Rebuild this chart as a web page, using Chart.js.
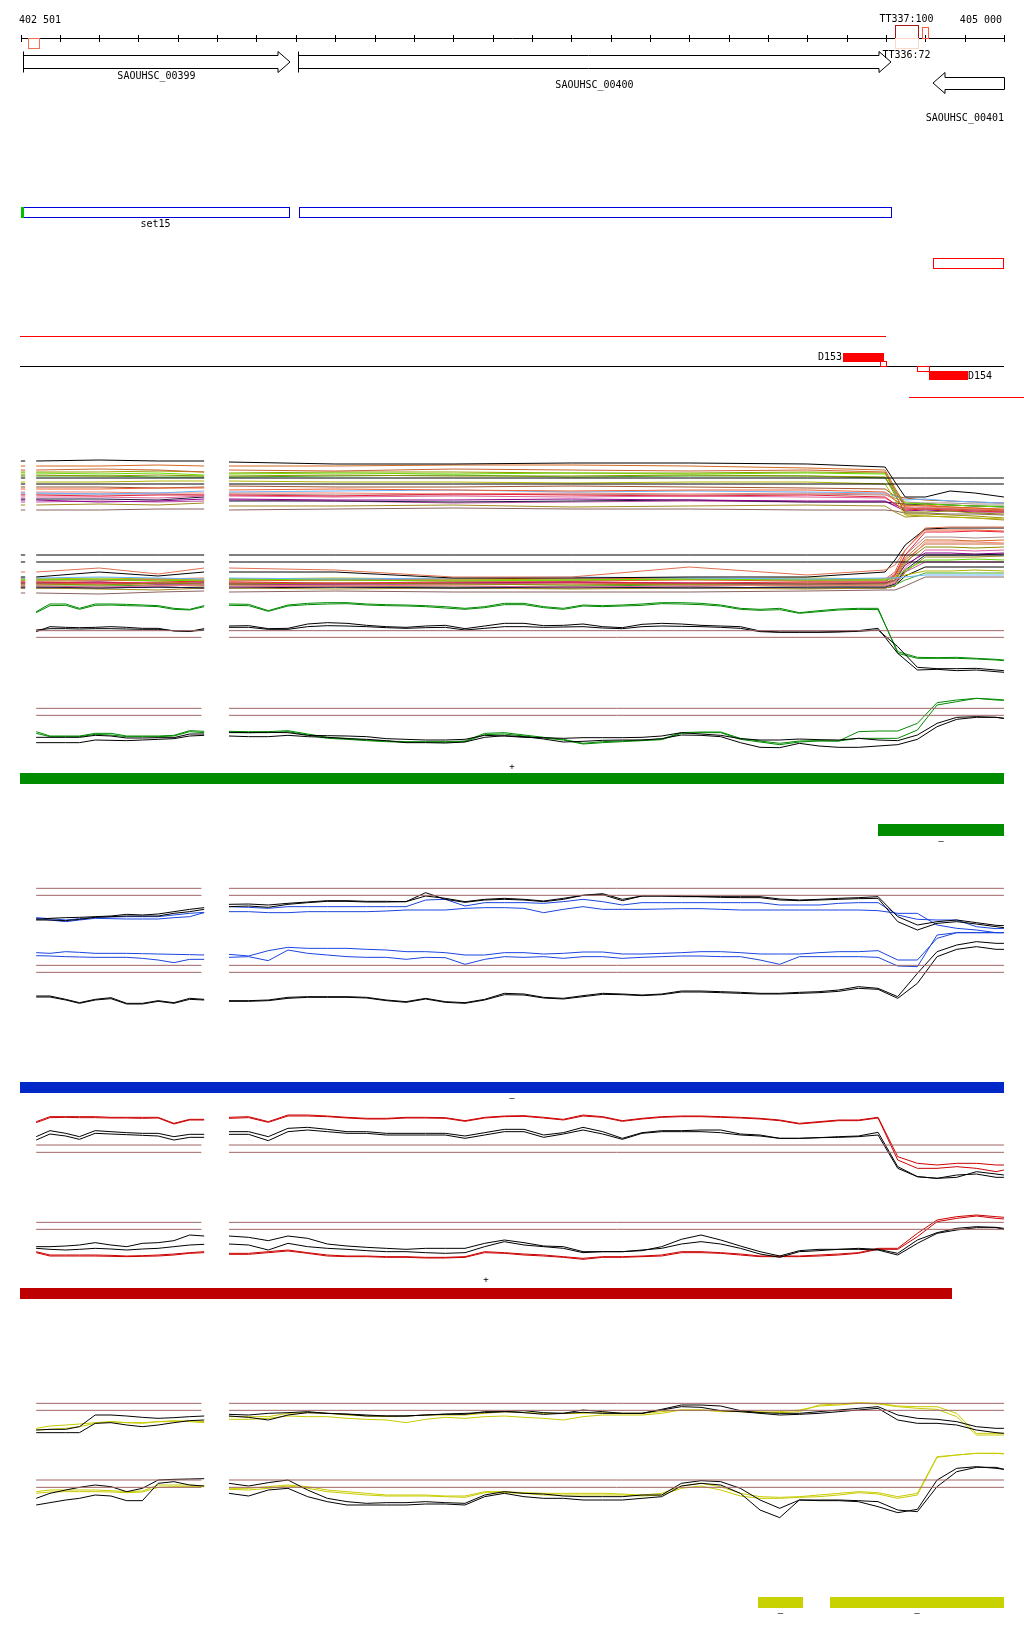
<!DOCTYPE html>
<html>
<head>
<meta charset="utf-8">
<script src="https://cdn.jsdelivr.net/npm/chart.js@4.4.1/dist/chart.umd.min.js"></script>
<style>
  html, body { margin: 0; padding: 0; background: #fff; }
  #page { position: relative; width: 1024px; height: 1640px; overflow: hidden; background: #fff; }
  #page canvas { position: absolute; left: 0; }
</style>
</head>
<body>
<div id="page"></div>
<script>
// genome window shown
const viewStart = 402501, viewEnd = 405000;
const X_MIN = 402448, X_MAX = 405051;

const rulerTicks = [402501, 402600, 402700, 402800, 402900, 403000, 403100, 403200, 403300, 403400, 403500,
  403600, 403700, 403800, 403900, 404000, 404100, 404200, 404300, 404400, 404500, 404600, 404700, 404800, 404900, 405000];
const rulerLabels = ['402 501', '405 000'];

// genes
const geneNames = ['SAOUHSC_00399', 'SAOUHSC_00400', 'SAOUHSC_00401'];
const geneStart = [402507, 403206, 404819];
const geneEnd = [403185, 404714, 405000];
const geneStrand = ['+', '+', '-'];

// terminators
const termNames = ['TT337:100', 'TT336:72'];
const termStart = [404723, 404723];
const termEnd = [404782, 404782];
const termStrand = ['+', '-'];

// small sites next to ruler
const siteStart = [402519, 404792];
const siteEnd = [402547, 404807];
const siteStrand = ['-', '+'];

// feature rows
const setName = 'set15';
const setStart = [402503, 403207];
const setEnd = [403183, 404714];
const redBox = [404819, 404998];
const redLineA = [402499, 404700];
const blackLine = [402499, 405000];
const redLineB = [404759, 405051];
const peakNames = ['D153', 'D154'];
const peakStart = [404591, 404810];
const peakEnd = [404695, 404909];
const smallBoxes = [[404685, 404700], [404779, 404810]];

// strand bars under each condition group
const greenPlus = [[402499, 405000]];
const greenMinus = [[404680, 405000]];
const blueMinus = [[402499, 405000]];
const redPlus = [[402499, 404868]];
const yellowMinus = [[404375, 404489], [404558, 405000]];

// ---------- multi-sample tracks (coarse positions) ----------
const abX = [402501, 402512, 402525, 402540, 402700, 402850, 402967, 403000, 403030, 403300, 403600,
  403900, 404200, 404500, 404698, 404723, 404749, 404800, 404863, 404926, 405000];

const trackA = [
  [139,139,null,139,140,139,139,null,138,136,136,137,137,136,133,118,103,103,109,107,103],
  [122,122,null,122,122,122,122,null,122,122,122,122,122,122,122,122,122,122,122,122,122],
  [116,116,null,116,116,116,116,null,116,116,116,116,116,116,116,116,116,116,116,116,116],
  [134,134,null,134,134,135,134,null,134,134,135,135,134,132,130,112,95,94,93,92,90],
  [130,130,null,130,131,130,128,null,130,129,131,130,129,130,128,110,92,91,91,90,89],
  [127,127,null,127,126,127,125,null,126,127,126,127,126,127,126,110,97,96,95,94,93],
  [125,125,null,125,124,125,124,null,124,125,124,124,125,124,123,105,88,88,89,87,86],
  [118,118,null,118,118,119,119,null,119,118,118,117,118,118,116,100,85,84,83,82,81],
  [111,111,null,111,111,112,112,null,110,111,110,109,110,110,108,100,94,95,93,92,91],
  [107,107,null,107,106,107,109,null,108,109,110,108,109,108,107,104,100,101,99,98,97],
  [105,105,null,105,104,105,105,null,105,104,106,105,104,105,103,96,90,91,90,89,88],
  [103,103,null,103,103,102,104,null,104,103,104,103,104,103,102,96,91,92,91,90,89],
  [100,100,null,100,98,99,101,null,101,100,100,101,100,99,99,94,89,90,89,88,88],
  [101,101,null,101,101,100,103,null,99,99,98,99,100,98,98,97,96,96,95,94,93],
  [108,108,null,108,108,107,107,null,107,107,106,107,106,107,106,100,93,93,92,91,90],
  [95,95,null,95,96,95,97,null,94,94,95,93,94,95,94,88,83,84,83,82,80],
  [90,90,null,90,90,91,91,null,90,91,92,91,91,90,90,89,87,87,86,86,85],
  [98,98,null,98,99,98,99,null,100,99,97,98,99,98,98,95,92,92,91,90,90],
  [124,124,null,124,124,123,123,null,123,124,125,123,124,124,122,108,95,96,95,94,94],
  [106,106,null,106,106,106,105,null,106,105,105,106,105,106,105,102,98,97,97,96,96],
  [113,113,null,113,113,112,113,null,114,113,113,114,113,112,111,104,102,100,99,98,97],
  [128,128,null,128,128,129,128,null,127,128,128,127,127,128,127,107,86,86,85,84,82]
];
const trackAColors = ['#000000','#000000','#000000','#d2691e','#c86432','#66dd00','#8c8c00','#b4b400','#f06030',
  '#66b2ff','#e8203c','#e0609a','#8b008b','#1a1a40','#f08070','#a08a20','#8b6262','#c050a0','#44aa22','#aa8888','#a0522d','#999900'];

const trackB = [
  [45,45,null,45,45,45,45,null,45,45,45,45,45,45,45,45,45,45,45,45,45],
  [38,38,null,38,38,38,38,null,38,38,38,38,38,38,38,38,38,38,38,38,38],
  [28,28,null,28,32,26,32,null,32,30,23,23,33,25,30,35,50,72,73,73,73],
  [23,23,null,23,28,24,28,null,28,28,22,22,23,23,28,40,55,71,72,72,72],
  [22,22,null,22,23,22,21,null,22,21,22,23,22,21,22,22,23,25,25,25,25],
  [20,20,null,20,21,19,20,null,21,20,19,20,21,20,20,22,30,40,40,41,40],
  [18,18,null,18,17,18,19,null,18,17,18,18,17,18,18,25,45,68,68,69,68],
  [16,16,null,16,15,17,16,null,16,17,16,15,16,16,16,20,38,53,53,52,53],
  [17,17,null,17,18,16,17,null,16,16,17,18,17,16,17,20,35,47,47,46,47],
  [19,19,null,19,19,20,18,null,19,20,19,19,20,19,19,24,42,60,60,59,60],
  [15,15,null,15,16,15,14,null,15,14,15,16,15,14,15,18,36,58,58,58,57],
  [14,14,null,14,13,14,15,null,13,14,14,13,14,15,14,17,32,50,50,49,50],
  [13,13,null,13,12,13,12,null,13,13,12,13,12,13,13,16,30,45,45,45,46],
  [21,21,null,21,22,21,20,null,21,22,21,20,21,22,21,22,25,29,29,30,29],
  [14,14,null,14,14,15,14,null,15,14,13,14,15,14,14,15,20,27,27,27,27],
  [12,12,null,12,11,10,12,null,12,11,12,11,12,11,12,14,28,43,43,43,44],
  [20,20,null,20,20,21,20,null,20,21,20,20,21,20,20,26,45,63,63,62,63],
  [17,17,null,17,16,17,18,null,17,16,17,17,16,17,17,22,40,56,56,56,56],
  [12,12,null,12,12,13,12,null,12,13,12,12,13,12,12,14,24,33,33,33,33],
  [7,7,null,7,6,8,9,null,8,9,8,8,8,9,10,10,14,23,23,23,23],
  [16,16,null,16,17,16,15,null,16,15,16,17,16,15,16,19,28,38,38,38,38],
  [21,21,null,21,20,21,22,null,21,20,21,22,21,20,21,28,50,70,70,70,69]
];
const trackBColors = ['#000000','#000000','#e07050','#000000','#66b2ff','#66dd00','#e8203c','#8c8c00','#8b008b','#d2691e',
  '#f08070','#e0609a','#1a1a50','#b4b400','#44aa22','#a08a20','#aa8888','#c86432','#000000','#8b6262','#c050a0','#f06030'];

// ---------- condition tracks (fine positions) ----------
const gridX = [402540, 402575, 402615, 402650, 402690, 402730, 402770, 402810, 402850, 402890, 402930, 402967, 403000,
  403030, 403080, 403130, 403180, 403230, 403280, 403330, 403380, 403430, 403480,
  403530, 403580, 403630, 403680, 403730, 403780, 403830, 403880, 403930, 403980,
  404030, 404080, 404130, 404180, 404230, 404280, 404330, 404380, 404430, 404480,
  404530, 404580, 404630, 404680, 404730, 404780, 404830, 404880, 404930, 404980, 405000];
const threshX = [402540, 402960, 403000, 403030, 405000];

// green condition, upper panel
const gu1 = [-15,8,8,-5,8,8,7,5,3,-5,-8,3,null,
  8,7,-12,5,10,12,12,8,6,5, 3,0,-5,0,10,10,0,-5,5,3, 5,8,12,12,10,5,-5,-8,-5,-18, -12,-7,-5,-5,-140,-155,-155,-155,-157,-160, -162];
const gu2 = [-18,3,4,-8,4,5,3,2,0,-8,-10,0,null,
  4,3,-14,2,6,8,9,5,3,2, 0,-4,-8,-3,6,6,-3,-8,2,0, 2,4,9,8,6,2,-8,-11,-9,-20, -15,-10,-8,-9,-135,-152,-153,-152,-155,-158, -160];
const gu3 = [-75,-60,-62,-63,-62,-60,-62,-65,-65,-73,-74,-66,null,
  -58,-57,-66,-65,-52,-48,-50,-56,-60,-62, -58,-56,-66,-58,-50,-50,-57,-56,-52,-60, -63,-53,-50,-52,-56,-58,-60,-73,-76,-76, -76,-75,-72,-65,-140,-190,-188,-192,-190,-195, -197];
const gu4 = [-70,-66,-66,-67,-66,-66,-67,-68,-68,-72,-74,-70,null,
  -62,-62,-68,-68,-60,-57,-58,-60,-63,-65, -63,-62,-70,-65,-60,-60,-62,-61,-60,-64, -66,-60,-58,-59,-60,-62,-65,-75,-77,-77, -77,-76,-74,-70,-120,-182,-186,-186,-185,-190, -192];
const guThresh = [-72, -92];

// green condition, lower panel
const gl1 = [285,272,272,272,280,280,272,272,272,274,288,286,null,
  286,285,285,288,278,268,265,260,257,255, 255,255,257,280,282,275,268,262,250,255, 257,260,263,282,284,284,265,257,250,257, 258,257,265,265,265,290,365,375,385,380, 379];
const gl2 = [280,270,270,270,277,275,270,270,270,272,285,282,null,
  282,282,282,285,275,265,262,258,255,253, 253,253,255,276,278,272,266,260,248,252, 255,258,261,280,282,282,262,254,246,254, 257,257,285,287,287,310,372,380,385,382, 380];
const gl3 = [268,268,268,268,274,272,266,266,267,267,278,278,null,
  283,282,283,282,274,273,272,270,264,262, 260,260,262,274,272,268,267,265,267,267, 267,268,272,282,278,274,264,260,260,263, 261,260,265,260,258,275,310,328,330,328, 325];
const gl4 = [252,252,252,252,260,259,258,260,262,264,272,274,null,
  272,270,270,274,270,268,264,262,258,252, 252,251,254,268,273,270,263,254,256,259, 260,260,264,275,274,270,252,238,237,250, 242,238,238,242,246,262,300,322,328,328, 325];
const glThresh = [355, 334];

// blue condition
const bl1 = [322,325,327,328,330,332,337,335,338,345,352,357,null,
  367,368,365,370,374,378,378,376,376,375, 392,385,375,382,385,382,377,385,394,399, 382,392,392,392,390,390,390,390,383,380, 382,385,387,390,330,305,315,320,312,304, 303];
const bl2 = [320,320,318,322,328,330,332,332,332,340,345,352,null,
  360,362,358,367,372,376,376,374,374,375, 402,382,373,380,382,380,375,382,394,396, 378,392,392,390,390,388,387,387,380,378, 380,382,384,385,315,290,310,315,308,300, 297];
const bl3 = [327,324,320,324,328,329,330,330,330,335,340,343,null,
  360,358,355,360,360,360,360,360,360,360, 380,382,362,372,372,372,370,375,382,375, 365,372,372,372,372,372,372,372,365,365, 365,370,372,372,335,322,320,320,300,294, 295];
const bl4 = [325,320,315,320,325,324,323,323,323,327,330,342,null,
  345,345,342,342,345,345,345,345,347,350, 350,350,355,357,357,355,342,352,360,352, 352,352,353,354,354,352,350,350,350,350, 350,350,350,348,340,340,305,295,290,282, 282];
const bl5 = [222,220,225,223,220,220,220,219,218,217,216,215,null,
  217,212,228,238,235,235,235,232,230,225, 225,222,215,215,222,222,218,220,224,224, 218,218,220,222,225,225,222,218,218,218, 222,225,225,228,200,200,265,282,282,282, 282];
const bl6 = [213,212,210,209,208,208,208,205,200,192,202,202,null,
  208,210,198,230,220,215,210,208,208,202, 208,207,187,202,210,208,210,205,210,210, 205,208,210,212,212,210,210,200,187,210, 210,210,210,208,182,180,275,282,282,282, 282];
const bl7 = [92,92,82,72,82,87,70,70,78,72,85,82,null,
  78,78,80,88,90,90,90,88,80,75, 85,75,72,82,100,98,88,85,93,100, 98,95,98,107,107,105,103,100,100,103, 105,110,120,115,90,160,225,245,255,250, 250];
const bl8 = [89,89,80,70,80,84,68,68,76,70,82,80,null,
  76,76,78,85,88,88,88,86,78,73, 83,73,70,80,96,95,86,83,90,97, 96,93,96,104,104,102,100,98,98,100, 102,106,115,112,85,130,210,232,240,232, 232];
const blThresh = [415, 394, 184, 163];

// red condition
const rd1 = [435,450,450,450,450,448,448,448,448,430,442,442,null,
  448,450,435,455,455,452,448,445,445,448, 448,447,438,448,452,453,448,442,455,450, 438,445,450,452,452,450,448,445,440,430, 435,440,440,448,330,310,305,310,310,305, 305];
const rd2 = [432,447,448,447,447,446,446,445,446,428,440,440,null,
  445,447,433,452,452,450,446,443,443,446, 446,445,436,446,450,451,446,440,452,448, 436,443,448,450,450,448,446,443,438,428, 433,438,438,446,320,295,295,300,295,285, 290];
const rd3 = [390,408,400,390,408,405,402,400,400,390,397,397,null,
  405,405,390,415,418,412,405,405,400,400, 400,400,392,402,412,412,395,402,418,405, 385,402,408,408,410,410,398,395,385,385, 387,390,392,403,300,270,265,268,285,278, 275];
const rd4 = [380,398,392,382,400,398,396,394,392,380,388,388,null,
  397,397,378,405,410,405,400,400,395,395, 395,395,385,395,405,405,388,398,410,398, 382,400,405,405,405,402,395,392,385,385, 387,388,390,395,295,270,265,275,278,268, 268];
const rd5 = [60,60,62,65,72,65,60,70,72,78,95,92,null,
  92,88,78,92,85,68,62,58,55,52, 55,55,55,70,80,72,62,60,45,45, 45,48,60,82,95,80,62,45,32,48, 52,52,55,52,40,80,102,115,120,118, 115];
const rd6 = [55,52,50,52,55,53,50,53,55,60,65,67,null,
  68,65,50,70,60,55,52,48,45,45, 42,40,42,60,75,65,60,55,42,45, 45,50,55,68,75,68,55,38,28,45, 48,52,52,50,35,70,100,110,117,117, 112];
const rd7 = [45,35,35,35,35,34,32,33,35,38,42,45,null,
  40,40,45,50,42,35,32,32,30,30, 28,28,30,45,42,38,35,30,25,30, 30,32,35,45,45,42,38,32,32,32, 35,38,42,55,55,100,140,150,155,150, 148];
const rd8 = [42,32,32,32,32,31,30,31,32,35,40,42,null,
  37,37,42,47,40,32,30,30,28,28, 26,26,28,42,40,35,32,28,22,28, 28,30,32,42,42,40,35,30,30,30, 32,35,40,52,52,90,135,145,152,145, 143];
const rdThresh = [365, 343, 133, 112];

// yellow condition
const yl1 = [350,352,352,360,395,395,392,388,385,387,390,392,null,
  397,395,400,402,405,400,398,395,392,392, 395,398,400,402,405,408,402,400,410,405, 400,400,412,425,425,422,408,402,400,400, 405,410,415,420,395,385,382,375,360,355, 355];
const yl2 = [342,342,342,342,370,372,365,360,365,372,378,380,null,
  392,388,380,395,402,400,397,392,392,392, 395,397,397,405,405,402,397,400,403,400, 400,400,410,420,418,408,405,400,395,397, 400,405,410,415,380,370,370,365,350,342, 340];
const yl3 = [355,362,365,368,372,375,372,370,375,375,378,375,null,
  390,390,390,400,402,400,395,392,390,392, 395,395,395,400,405,402,400,400,400,402, 400,400,405,410,410,405,405,405,402,405, 425,428,432,430,422,420,420,400,340,340, 340];
const yl4 = [350,352,355,360,370,375,372,372,375,378,375,372,null,
  382,382,385,392,390,390,385,382,380,372, 382,388,385,390,392,388,385,380,390,395, 395,395,400,410,410,408,405,402,405,410, 422,425,430,428,420,415,412,390,335,335, 335];
const yl5 = [145,160,170,178,185,180,165,175,200,202,203,204,null,
  190,182,192,200,170,145,135,130,132,132, 135,132,130,155,165,160,158,152,150,150, 150,155,155,190,198,195,175,140,115,140, 140,140,138,135,110,105,180,225,238,238, 232];
const yl6 = [125,132,140,145,155,152,138,138,190,195,185,182,null,
  160,152,170,175,150,135,125,125,125,125, 128,128,125,150,160,150,145,145,140,140, 140,145,150,182,190,185,160,110,87,140, 138,138,135,120,102,112,200,235,240,235, 232];
const yl7 = [165,170,170,170,170,168,165,167,185,185,185,182,null,
  175,175,180,185,180,170,165,160,155,155, 155,152,152,165,165,162,160,160,160,160, 158,155,160,182,190,180,160,150,148,150, 155,160,165,162,150,160,270,275,280,280, 278];
const yl8 = [160,164,165,165,165,164,162,164,178,180,180,180,null,
  172,170,175,182,175,165,160,155,152,152, 152,150,148,162,162,160,155,155,155,155, 155,152,155,175,182,170,152,145,145,148, 150,155,162,158,145,155,268,275,280,280, 280];
const ylThresh = [430, 409, 200, 178];

// ---------- styles / layout ----------
const C = {
  black: '#000000', thresh: '#a06464', green: '#008a00', blue: '#1a44e0', red: '#cc0000', yellow: '#c8cc00',
  greenBar: '#008c00', blueBar: '#0028c8', redBar: '#be0000', yellowBar: '#c8d200'
};
const FONT = '10px "DejaVu Sans Mono", monospace';
const page = document.getElementById('page');

function line(xs, ys, color) {
  return { data: xs.map((x, i) => ({ x: x, y: ys[i] })), borderColor: color, borderWidth: 1,
    pointRadius: 0, fill: false, spanGaps: false, tension: 0 };
}
function threshold(v) {
  return line(threshX, threshX.map(x => (x === 403000 ? null : v)), C.thresh);
}

function addCanvas(top, height) {
  const cv = document.createElement('canvas');
  cv.width = 1024; cv.height = height;
  cv.style.top = top + 'px';
  page.appendChild(cv);
  return cv;
}

function trackChart(top, height, yMin, yMax, datasets) {
  return new Chart(addCanvas(top, height), {
    type: 'line',
    data: { datasets: datasets },
    options: {
      responsive: false, animation: false, devicePixelRatio: 1, events: [],
      layout: { padding: 0 },
      plugins: { legend: { display: false }, tooltip: { enabled: false } },
      scales: {
        x: { type: 'linear', min: X_MIN, max: X_MAX, display: false },
        y: { type: 'linear', min: yMin, max: yMax, display: false }
      },
      elements: { point: { radius: 0 }, line: { tension: 0 } }
    }
  });
}

// ---------- header / annotation drawing ----------
function hline(ctx, x0, x1, y, color) {
  ctx.strokeStyle = color; ctx.beginPath(); ctx.moveTo(x0, y + 0.5); ctx.lineTo(x1, y + 0.5); ctx.stroke();
}
function vline(ctx, x, y0, y1, color) {
  ctx.strokeStyle = color; ctx.beginPath(); ctx.moveTo(x + 0.5, y0); ctx.lineTo(x + 0.5, y1); ctx.stroke();
}
function boxOutline(ctx, x0, x1, y0, y1, color) {
  ctx.strokeStyle = color; ctx.strokeRect(x0 + 0.5, y0 + 0.5, x1 - x0, y1 - y0);
}
function boxFill(ctx, x0, x1, y0, y1, color) {
  ctx.fillStyle = color; ctx.fillRect(x0, y0, x1 - x0, y1 - y0);
}
function text(ctx, s, x, y, align) {
  ctx.fillStyle = '#000'; ctx.textAlign = align; ctx.fillText(s, x, y);
}

const annotPlugin = {
  id: 'annot',
  afterDraw(chart) {
    const ctx = chart.ctx;
    const X = v => Math.round(chart.scales.x.getPixelForValue(v));
    ctx.save();
    ctx.lineWidth = 1;
    ctx.font = FONT;
    ctx.textBaseline = 'middle';

    // ruler
    hline(ctx, X(viewStart), X(viewEnd), 38, C.black);
    rulerTicks.forEach(t => vline(ctx, X(t), 35, 42, C.black));
    text(ctx, rulerLabels[0], X(viewStart) - 2, 20, 'left');
    text(ctx, rulerLabels[1], X(viewEnd) - 2, 20, 'right');

    // sites and terminators
    siteStart.forEach((s, i) => {
      const up = siteStrand[i] === '+';
      boxOutline(ctx, X(s), X(siteEnd[i]), up ? 27 : 38, up ? 38 : 48, up ? '#ff5a3c' : '#f07050');
    });
    termStart.forEach((s, i) => {
      const up = termStrand[i] === '+';
      const x0 = X(s), x1 = X(termEnd[i]);
      boxOutline(ctx, x0, x1, up ? 25 : 38, up ? 38 : 48, up ? '#a01818' : '#ffd6c8');
      text(ctx, termNames[i], (x0 + x1) / 2, up ? 19 : 55, 'center');
    });

    // genes
    const labelY = [76, 85, 118];
    geneStart.forEach((s, i) => {
      const x0 = X(s), x1 = X(geneEnd[i]), head = 12;
      ctx.strokeStyle = C.black; ctx.fillStyle = '#fff';
      ctx.beginPath();
      if (geneStrand[i] === '+') {
        const top = 55.5, bot = 68.5, ht = 51.5, hb = 72.5, mid = 62;
        ctx.moveTo(x0 + 0.5, ht); ctx.lineTo(x0 + 0.5, hb);
        ctx.moveTo(x0, top); ctx.lineTo(x1 - head, top); ctx.lineTo(x1 - head, ht); ctx.lineTo(x1, mid);
        ctx.lineTo(x1 - head, hb); ctx.lineTo(x1 - head, bot); ctx.lineTo(x0, bot);
      } else {
        const top = 77.5, bot = 89.5, ht = 72.5, hb = 93.5, mid = 83;
        ctx.moveTo(x0, mid); ctx.lineTo(x0 + head, ht); ctx.lineTo(x0 + head, top); ctx.lineTo(x1 + 0.5, top);
        ctx.lineTo(x1 + 0.5, bot); ctx.lineTo(x0 + head, bot); ctx.lineTo(x0 + head, hb); ctx.closePath();
      }
      ctx.stroke();
      const w = ctx.measureText(geneNames[i]).width;
      let cx = (x0 + x1) / 2;
      if (cx + w / 2 > X(viewEnd)) cx = X(viewEnd) - w / 2;
      text(ctx, geneNames[i], cx, labelY[i], 'center');
    });

    // set boxes
    setStart.forEach((s, i) => boxOutline(ctx, X(s), X(setEnd[i]), 207, 217, '#0000dd'));
    boxFill(ctx, X(setStart[0]) - 1, X(setStart[0]) + 2, 207, 218, '#00c000');
    text(ctx, setName, (X(setStart[0]) + X(setEnd[0])) / 2, 224, 'center');

    // red box, lines, peaks
    boxOutline(ctx, X(redBox[0]), X(redBox[1]), 258, 268, '#ff0000');
    hline(ctx, X(redLineA[0]), X(redLineA[1]), 336, '#ff0000');
    hline(ctx, X(blackLine[0]), X(blackLine[1]), 366, C.black);
    hline(ctx, X(redLineB[0]), X(redLineB[1]), 397, '#ff0000');
    boxFill(ctx, X(peakStart[0]), X(peakEnd[0]), 353, 362, '#ff0000');
    text(ctx, peakNames[0], X(peakStart[0]) - 1, 357, 'right');
    boxFill(ctx, X(peakStart[1]), X(peakEnd[1]), 371, 380, '#ff0000');
    text(ctx, peakNames[1], X(peakEnd[1]), 376, 'left');
    boxOutline(ctx, X(smallBoxes[0][0]), X(smallBoxes[0][1]), 361, 366, '#ff0000');
    boxOutline(ctx, X(smallBoxes[1][0]), X(smallBoxes[1][1]), 366, 371, '#ff0000');

    // strand bars
    ctx.font = '9px "DejaVu Sans Mono", monospace';
    const bars = [
      [greenPlus, C.greenBar, 773, 784, '+', 767],
      [greenMinus, C.greenBar, 824, 836, '\u2013', 842],
      [blueMinus, C.blueBar, 1082, 1093, '\u2013', 1099],
      [redPlus, C.redBar, 1288, 1299, '+', 1280],
      [yellowMinus, C.yellowBar, 1597, 1608, '\u2013', 1614]
    ];
    bars.forEach(([spans, color, y0, y1, sign, ly]) => {
      spans.forEach(([s, e]) => {
        boxFill(ctx, X(s), X(e), y0, y1, color);
        text(ctx, sign, (X(s) + X(e)) / 2, ly, 'center');
      });
    });
    ctx.restore();
  }
};

new Chart(addCanvas(0, 1640), {
  type: 'scatter',
  data: { datasets: [] },
  options: {
    responsive: false, animation: false, devicePixelRatio: 1, events: [],
    plugins: { legend: { display: false }, tooltip: { enabled: false } },
    scales: {
      x: { type: 'linear', min: X_MIN, max: X_MAX, display: false },
      y: { type: 'linear', min: 0, max: 1640, reverse: true, display: false }
    }
  },
  plugins: [annotPlugin]
});

// ---------- tracks ----------
trackChart(440, 240, -80, 160,
  trackA.map((ys, i) => line(abX, ys, trackAColors[i]))
    .concat(trackB.map((ys, i) => line(abX, ys, trackBColors[i]))));

trackChart(440, 260, -280, 500, guThresh.map(threshold).concat([
  line(gridX, gu3, C.black), line(gridX, gu4, C.black), line(gridX, gu1, C.green), line(gridX, gu2, C.green)]));

trackChart(660, 200, -100, 500, glThresh.map(threshold).concat([
  line(gridX, gl3, C.black), line(gridX, gl4, C.black), line(gridX, gl1, C.green), line(gridX, gl2, C.green)]));

trackChart(860, 240, -220, 500, blThresh.map(threshold).concat([
  line(gridX, bl1, C.black), line(gridX, bl2, C.black), line(gridX, bl3, C.blue), line(gridX, bl4, C.blue),
  line(gridX, bl5, C.blue), line(gridX, bl6, C.blue), line(gridX, bl7, C.black), line(gridX, bl8, C.black)]));

trackChart(1100, 220, -160, 500, rdThresh.map(threshold).concat([
  line(gridX, rd3, C.black), line(gridX, rd4, C.black), line(gridX, rd1, C.red), line(gridX, rd2, C.red),
  line(gridX, rd5, C.black), line(gridX, rd6, C.black), line(gridX, rd7, C.red), line(gridX, rd8, C.red)]));

trackChart(1380, 260, -280, 500, ylThresh.map(threshold).concat([
  line(gridX, yl1, C.black), line(gridX, yl2, C.black), line(gridX, yl3, C.yellow), line(gridX, yl4, C.yellow),
  line(gridX, yl5, C.black), line(gridX, yl6, C.black), line(gridX, yl7, C.yellow), line(gridX, yl8, C.yellow)]));
</script>
</body>
</html>
